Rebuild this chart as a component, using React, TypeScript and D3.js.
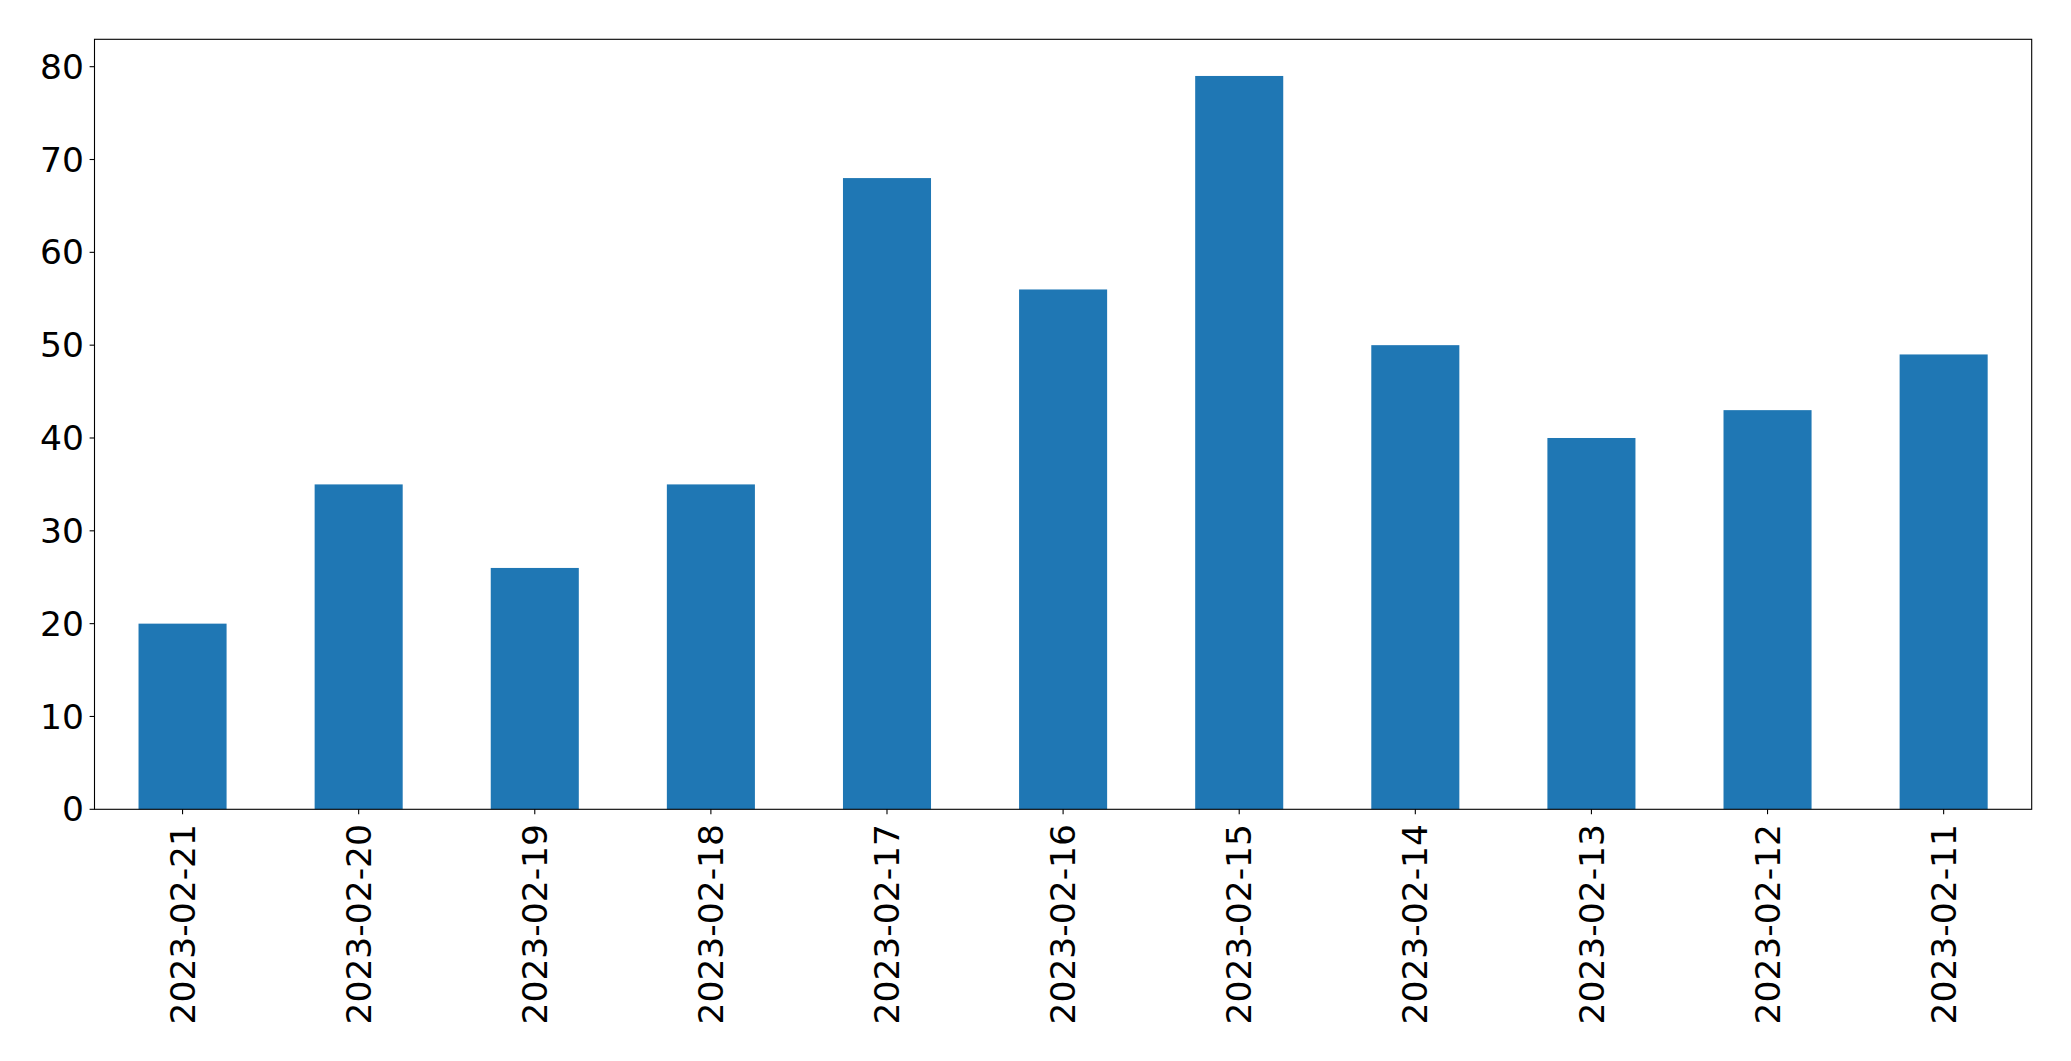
import React from "react";
import * as d3 from "d3";

const categories = ["2023-02-21","2023-02-20","2023-02-19","2023-02-18","2023-02-17","2023-02-16","2023-02-15","2023-02-14","2023-02-13","2023-02-12","2023-02-11"];
const values = [20, 35, 26, 35, 68, 56, 79, 50, 40, 43, 49];
const yTicks = [0, 10, 20, 30, 40, 50, 60, 70, 80];

const W = 2071, H = 1061;
const left = 94.5, right = 2031.7, top = 39.3, bottom = 809.3;
const FS = 34.5;
const font = "'DejaVu Sans', sans-serif";

export default function App() {
  const x = d3.scaleLinear().domain([-0.5, categories.length - 0.5]).range([left, right]);
  const y = d3.scaleLinear().domain([0, d3.max(values)! * 1.05]).range([bottom, top]);
  const bw = x(0.25) - x(-0.25);
  return (
    <svg width={W} height={H} style={{ position: "absolute", left: 0, top: 0, background: "#fff" }}>
      <rect x={0} y={0} width={W} height={H} fill="#fff" />
      {values.map((v, i) => (
        <rect key={i} x={x(i) - bw / 2} y={y(v)} width={bw} height={y(0) - y(v)} fill="#1f77b4" />
      ))}
      <rect x={left} y={top} width={right - left} height={bottom - top} fill="none" stroke="#000" strokeWidth={1.1} />
      {yTicks.map((t) => (
        <g key={t}>
          <line x1={left - 4.9} x2={left} y1={y(t)} y2={y(t)} stroke="#000" strokeWidth={1.1} />
          <text x={left - 10.5} y={y(t)} dy="0.35em" textAnchor="end" fontFamily={font} fontSize={FS} fill="#000">{t}</text>
        </g>
      ))}
      {categories.map((c, i) => (
        <g key={c}>
          <line x1={x(i)} x2={x(i)} y1={bottom} y2={bottom + 4.9} stroke="#000" strokeWidth={1.1} />
          <text transform={`translate(${x(i)},${bottom + 14.7}) rotate(-90)`} dy="0.35em" textAnchor="end" fontFamily={font} fontSize={FS} fill="#000">{c}</text>
        </g>
      ))}
    </svg>
  );
}
